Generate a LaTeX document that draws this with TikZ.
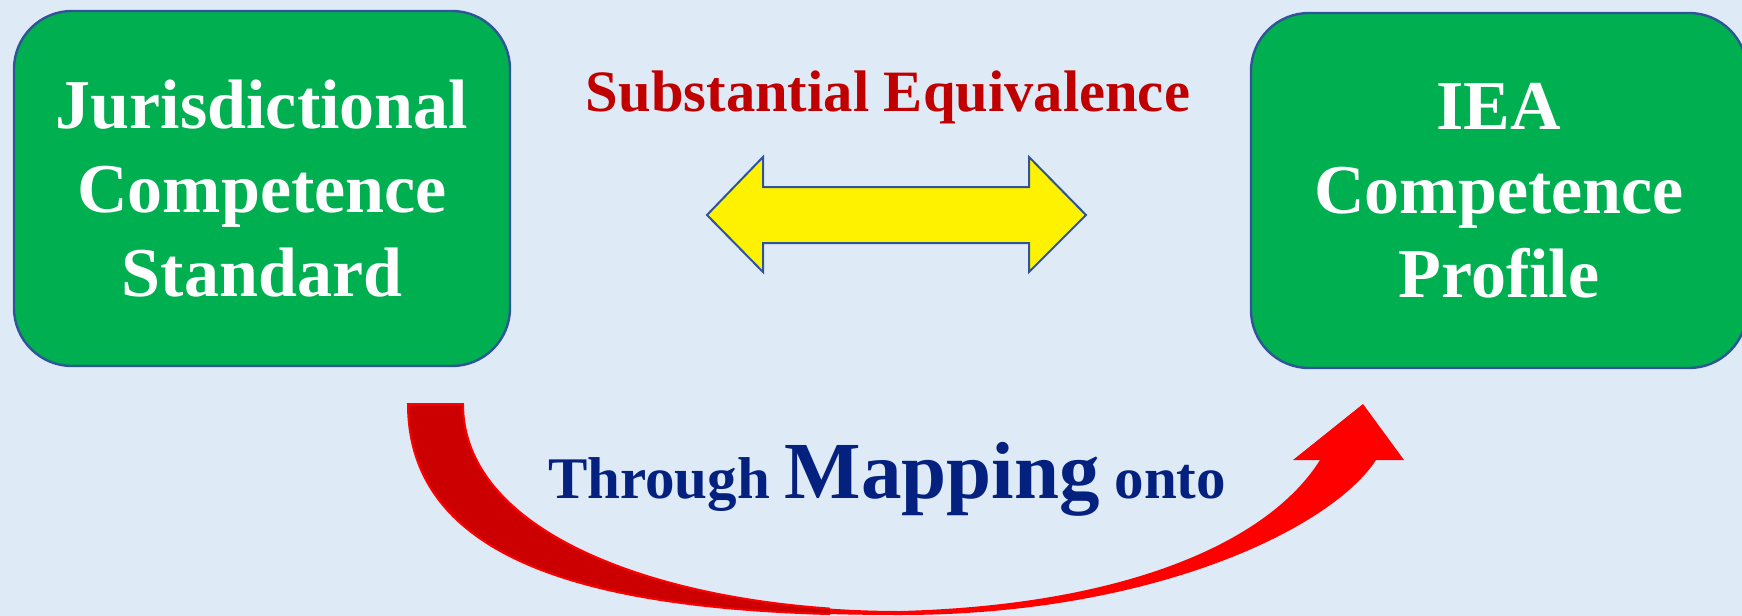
\documentclass[tikz,border=0pt]{standalone}
\usepackage{fontspec}
\setmainfont{Liberation Serif}
\usetikzlibrary{positioning}
\definecolor{bgBlue}{HTML}{DEEAF6}
\definecolor{boxGreen}{HTML}{00AF50}
\definecolor{edgeBlue}{HTML}{2F5597}
\definecolor{seRed}{HTML}{C00000}
\definecolor{mapBlue}{HTML}{052180}
\definecolor{bandDark}{HTML}{CC0000}
\definecolor{bandRed}{HTML}{FF0000}
\tikzset{
  every node/.style={font=\bfseries, inner sep=0pt},
  compbox/.style={draw=edgeBlue, fill=boxGreen, line width=1.2pt, rounded corners=29pt,
                  minimum width=248pt, minimum height=177.5pt, align=center, text=white,
                  font=\fontsize{35}{42}\selectfont\bfseries},
  eqarrow/.style={fill=yellow, draw=edgeBlue, line width=1pt},
  seLabel/.style={text=seRed, font=\fontsize{29.3}{34}\selectfont\bfseries, anchor=base},
  mapLabel/.style={text=mapBlue, font=\fontsize{29.5}{34}\selectfont\bfseries, anchor=base},
}
% the curved mapping band, outer edge then inner edge
\newcommand{\mapband}{(mapA) .. controls (408,580) and (640,615) .. (mapLow)
  .. controls (1150,615) and (1330,530) .. (mapC) -- (mapD)
  .. controls (1270,540) and (1130,605) .. (mapLowIn)
  .. controls (680,611) and (463,540) .. (mapB) -- cycle}

\begin{document}
\begin{tikzpicture}[x=0.5pt, y=-0.5pt]
  \useasboundingbox (0,0) rectangle (1742,616);
  \fill[bgBlue] (0,0) rectangle (1742,616);

  \node[compbox] (jcs) at (262,188.5) {Jurisdictional\\Competence\\Standard};
  \node[compbox] (iea) at (1499,190.5) {IEA\\Competence\\Profile};

  % substantial equivalence
  \node[seLabel] (se) at (888,111) {Substantial Equivalence};
  \coordinate (eqL) at (707,215);
  \coordinate (eqR) at (1086,215);
  \draw[eqarrow] (eqL) -- (763,157) -- (763,187) -- (1029,187) -- (1029,157) -- (eqR)
    -- (1029,272) -- (1029,243) -- (763,243) -- (763,272) -- cycle;

  % mapping arrow
  \coordinate (mapA) at (408,404);
  \coordinate (mapB) at (463,404);
  \coordinate (mapLow) at (900,615);
  \coordinate (mapLowIn) at (900,611);
  \coordinate (mapC) at (1376,460);
  \coordinate (mapD) at (1320,460);
  \coordinate (tip) at (1363,404);
  \fill[bandRed] \mapband;
  \begin{scope}
    \clip (0,380) rectangle (830,616);
    \filldraw[fill=bandDark, draw=bandRed, line width=1pt] \mapband;
  \end{scope}
  \fill[bandRed] (1293,460) -- (tip) -- (1404,460) -- cycle;

  \node[mapLabel] (map) at (887,498)
    {Through \fontsize{40.5}{46}\selectfont Mapping\fontsize{29.5}{34}\selectfont{} onto};
\end{tikzpicture}
\end{document}
